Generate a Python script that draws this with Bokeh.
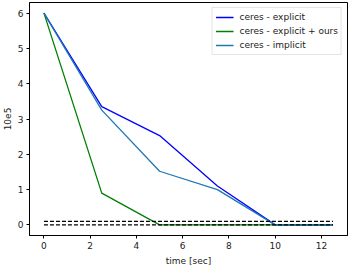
from bokeh.plotting import figure
from bokeh.models import Range1d, FixedTicker, Legend, LegendItem
from bokeh.embed import file_html
from bokeh.resources import INLINE

# data
time = [0, 2.5, 5, 7.5, 10, 12.5]
explicit = [6.0, 3.35, 2.53, 1.1, 0.0, 0.0]
explicit_ours = [6.0, 0.9, 0.0, 0.0, 0.0, 0.0]
implicit = [6.0, 3.25, 1.52, 1.0, 0.0, 0.0]
threshold_x = [0, 12.5]
thresholds = [0.0, 0.1]
x_ticks = [0, 2, 4, 6, 8, 10, 12]
y_ticks = [0, 1, 2, 3, 4, 5, 6]

FONT = "DejaVu Sans"
FS = "9px"

p = figure(frame_width=318, frame_height=233, output_backend="svg", toolbar_location=None,
           x_range=Range1d(-0.625, 13.125), y_range=Range1d(-0.3, 6.3),
           min_border_left=0, min_border_right=3, min_border_top=2, min_border_bottom=0)
p.background_fill_color = "white"
p.border_fill_color = "white"
p.outline_line_color = "black"
p.outline_line_width = 1
p.grid.visible = False

r1 = p.line(time, explicit, line_color="#0000ff", line_width=1.3)
r2 = p.line(time, explicit_ours, line_color="#008000", line_width=1.3)
r3 = p.line(time, implicit, line_color="#1f77b4", line_width=1.3)
for t in thresholds:
    p.line(threshold_x, [t, t], line_color="black", line_width=1.3, line_dash="4 2")

for ax in (p.xaxis, p.yaxis):
    ax.major_tick_out = 3
    ax.major_tick_in = 0
    ax.minor_tick_line_color = None
    ax.major_tick_line_color = "black"
    ax.axis_line_color = "black"
    ax.major_label_text_font = FONT
    ax.major_label_text_font_size = FS
    ax.major_label_text_color = "#222222"
    ax.major_label_standoff = 3
    ax.axis_label_text_font = FONT
    ax.axis_label_text_font_size = FS
    ax.axis_label_text_font_style = "normal"
    ax.axis_label_text_color = "#222222"
    ax.axis_label_standoff = 4

p.xaxis.ticker = FixedTicker(ticks=x_ticks)
p.yaxis.ticker = FixedTicker(ticks=y_ticks)
p.xaxis.axis_label = "time [sec]"
p.yaxis.axis_label = "10e5"

legend = Legend(items=[
    LegendItem(label="ceres - explicit", renderers=[r1]),
    LegendItem(label="ceres - explicit + ours", renderers=[r2]),
    LegendItem(label="ceres - implicit", renderers=[r3]),
], location="top_right")
legend.label_text_font = FONT
legend.label_text_font_size = FS
legend.label_text_color = "#222222"
legend.glyph_width = 18
legend.glyph_height = 12
legend.label_height = 12
legend.label_standoff = 6
legend.spacing = 2
legend.padding = 3
legend.margin = 5
legend.border_line_color = "#cccccc"
legend.border_line_width = 1
legend.background_fill_alpha = 0.8
p.add_layout(legend)

open("out.html", "w").write(file_html(p, INLINE))
